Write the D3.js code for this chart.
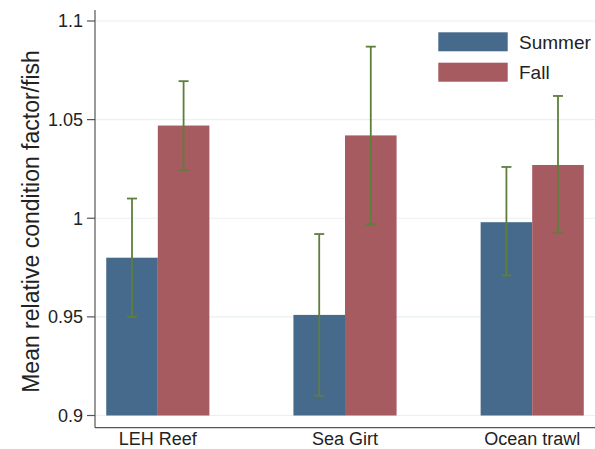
<!DOCTYPE html>
<html><head><meta charset="utf-8">
<script src="https://cdn.jsdelivr.net/npm/d3@7"></script>
<style>body{margin:0;background:#fff}svg{display:block}text{font-family:"Liberation Sans",Arial,Helvetica,sans-serif}</style>
</head><body>
<script>
const categories = ["LEH Reef", "Sea Girt", "Ocean trawl"];
const seriesNames = ["Summer", "Fall"];
const summerMean = [0.980, 0.951, 0.998];
const summerLow  = [0.950, 0.910, 0.971];
const summerHigh = [1.010, 0.992, 1.026];
const fallMean = [1.047, 1.042, 1.027];
const fallLow  = [1.0245, 0.997, 0.9925];
const fallHigh = [1.0695, 1.087, 1.062];
const yTicks = [0.9, 0.95, 1, 1.05, 1.1];
const yTickLabels = ["0.9", "0.95", "1", "1.05", "1.1"];
const colors = ["#466a8b", "#a65b60"];

const W = 595, H = 449;
const svg = d3.select("body").append("svg").attr("width", W).attr("height", H);

const y = d3.scaleLinear().domain([0.9, 1.1]).range([415.5, 21]);
const x = d3.scaleBand().domain(categories).range([95, 595]).paddingInner(0.449).paddingOuter(0.06);
const xs = d3.scaleBand().domain(seriesNames).range([0, x.bandwidth()]);

const data = [];
categories.forEach((c, i) => {
  data.push({c, s: "Summer", m: summerMean[i], lo: summerLow[i], hi: summerHigh[i]});
  data.push({c, s: "Fall", m: fallMean[i], lo: fallLow[i], hi: fallHigh[i]});
});

// gridlines
svg.append("g").selectAll("line").data(yTicks).join("line")
  .attr("x1", 95).attr("x2", 595)
  .attr("y1", d => y(d)).attr("y2", d => y(d))
  .attr("stroke", "#e9eff3").attr("stroke-width", 1.2);

// bars
svg.append("g").selectAll("rect").data(data).join("rect")
  .attr("x", d => x(d.c) + xs(d.s))
  .attr("width", xs.bandwidth())
  .attr("y", d => y(d.m))
  .attr("height", d => y(0.9) - y(d.m))
  .attr("fill", d => colors[seriesNames.indexOf(d.s)]);

// error bars
const eb = svg.append("g").attr("stroke", "#5e7f3c").attr("stroke-width", 1.8).attr("fill", "none");
data.forEach(d => {
  const cx = x(d.c) + xs(d.s) + xs.bandwidth() / 2;
  eb.append("line").attr("x1", cx).attr("x2", cx).attr("y1", y(d.lo)).attr("y2", y(d.hi));
  eb.append("line").attr("x1", cx - 5).attr("x2", cx + 5).attr("y1", y(d.lo)).attr("y2", y(d.lo));
  eb.append("line").attr("x1", cx - 5).attr("x2", cx + 5).attr("y1", y(d.hi)).attr("y2", y(d.hi));
});

// axes lines
svg.append("line").attr("x1", 95).attr("x2", 95).attr("y1", 10).attr("y2", 427.7).attr("stroke", "#555").attr("stroke-width", 1.2);
svg.append("line").attr("x1", 95).attr("x2", 595).attr("y1", 427.7).attr("y2", 427.7).attr("stroke", "#555").attr("stroke-width", 1.2);

// y ticks
const yt = svg.append("g");
yTicks.forEach((t, i) => {
  yt.append("line").attr("x1", 87).attr("x2", 95).attr("y1", y(t)).attr("y2", y(t)).attr("stroke", "#555").attr("stroke-width", 1.2);
  yt.append("text").attr("x", 83).attr("y", y(t)).attr("dy", "0.36em").attr("text-anchor", "end")
    .attr("font-size", 18).attr("fill", "#222").text(yTickLabels[i]);
});

// x labels
svg.append("g").selectAll("text").data(categories).join("text")
  .attr("x", d => x(d) + x.bandwidth() / 2).attr("y", 444.5)
  .attr("text-anchor", "middle").attr("font-size", 18).attr("fill", "#222").text(d => d);

// y title
svg.append("text").attr("transform", "translate(38.5,221.5) rotate(-90)")
  .attr("text-anchor", "middle").attr("font-size", 23).attr("fill", "#222")
  .text("Mean relative condition factor/fish");

// legend
const lg = svg.append("g");
seriesNames.forEach((s, i) => {
  const yy = 32.3 + i * 30.4;
  lg.append("rect").attr("x", 438.3).attr("y", yy).attr("width", 69.4).attr("height", 19)
    .attr("fill", colors[i]);
  lg.append("text").attr("x", 519).attr("y", yy + 9.5).attr("dy", "0.36em")
    .attr("font-size", 19).attr("fill", "#222").text(s);
});
</script>
</body></html>
